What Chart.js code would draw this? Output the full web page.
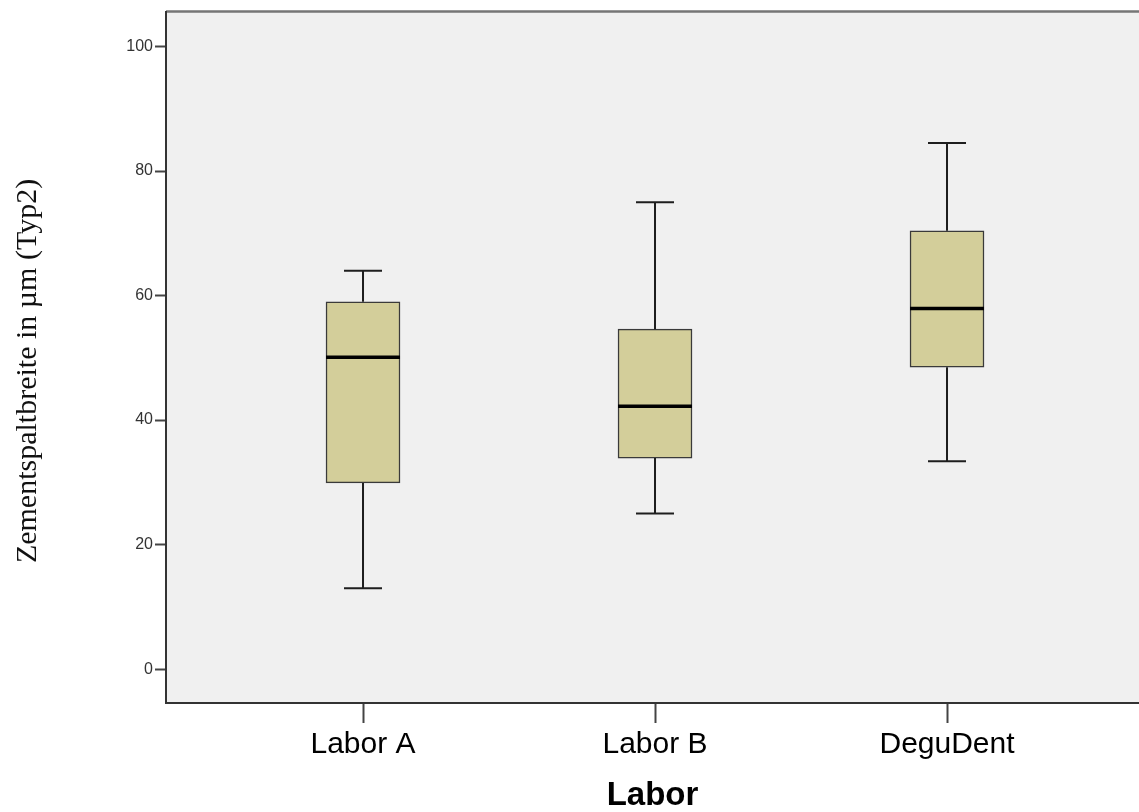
<!DOCTYPE html>
<html>
<head>
<meta charset="utf-8">
<script src="https://cdn.jsdelivr.net/npm/chart.js@4.4.1/dist/chart.umd.min.js"></script>
<style>
  html, body { margin: 0; padding: 0; background: #fff; overflow: hidden; }
</style>
</head>
<body>
<canvas id="my-chart" width="1139" height="812"></canvas>
<script>
// values
const labels = ['Labor A', 'Labor B', 'DeguDent'];
const whiskerLow = [13.0, 25.0, 33.4];
const q1 = [29.9, 33.9, 48.5];
const median = [50.1, 42.2, 57.9];
const q3 = [59.0, 54.6, 70.4];
const whiskerHigh = [64.0, 75.0, 84.5];
const yTicks = [0, 20, 40, 60, 80, 100];

const boxWidth = 74;
const capWidth = 38;

const boxData = labels.map((l, i) => ({ x: i + 1, y: [q1[i], q3[i]] }));

const boxPlugin = {
  id: 'boxplot',
  beforeDraw(chart) {
    const { ctx, chartArea } = chart;
    ctx.save();
    ctx.fillStyle = '#f0f0f0';
    ctx.fillRect(chartArea.left, chartArea.top, chartArea.right - chartArea.left, chartArea.bottom - chartArea.top);
    ctx.strokeStyle = '#767676';
    ctx.lineWidth = 2.5;
    ctx.beginPath();
    ctx.moveTo(chartArea.left, chartArea.top);
    ctx.lineTo(chartArea.right, chartArea.top);
    ctx.stroke();
    ctx.restore();
  },
  afterDatasetsDraw(chart) {
    const { ctx } = chart;
    const xs = chart.scales.x, ys = chart.scales.y;
    ctx.save();
    labels.forEach((l, i) => {
      const cx = xs.getPixelForValue(i + 1);
      // whiskers + caps
      ctx.strokeStyle = '#1e1e1e';
      ctx.lineWidth = 2;
      ctx.beginPath();
      ctx.moveTo(cx, ys.getPixelForValue(q3[i]));
      ctx.lineTo(cx, ys.getPixelForValue(whiskerHigh[i]));
      ctx.moveTo(cx, ys.getPixelForValue(q1[i]));
      ctx.lineTo(cx, ys.getPixelForValue(whiskerLow[i]));
      ctx.moveTo(cx - capWidth / 2, ys.getPixelForValue(whiskerHigh[i]));
      ctx.lineTo(cx + capWidth / 2, ys.getPixelForValue(whiskerHigh[i]));
      ctx.moveTo(cx - capWidth / 2, ys.getPixelForValue(whiskerLow[i]));
      ctx.lineTo(cx + capWidth / 2, ys.getPixelForValue(whiskerLow[i]));
      ctx.stroke();
      // median
      ctx.strokeStyle = '#000';
      ctx.lineWidth = 3.5;
      ctx.beginPath();
      ctx.moveTo(cx - boxWidth / 2, ys.getPixelForValue(median[i]));
      ctx.lineTo(cx + boxWidth / 2, ys.getPixelForValue(median[i]));
      ctx.stroke();
    });
    ctx.restore();
  },
  afterDraw(chart) {
    const { ctx } = chart;
    ctx.save();
    ctx.translate(28, 371);
    ctx.rotate(-Math.PI / 2);
    ctx.fillStyle = '#111';
    ctx.font = '30px "Liberation Serif", serif';
    ctx.textAlign = 'center';
    ctx.textBaseline = 'middle';
    ctx.fillText('Zementspaltbreite in µm (Typ2)', 0, 0);
    ctx.restore();
  }
};

const ctx = document.getElementById('my-chart').getContext('2d');
const chart = new Chart(ctx, {
  type: 'bar',
  data: {
    datasets: [
      {
        data: boxData,
        backgroundColor: '#d3ce9a',
        borderColor: '#3a3a3a',
        borderWidth: 1.5,
        borderSkipped: false,
        barThickness: boxWidth,
        grouped: false
      }
    ]
  },
  options: {
    responsive: false,
    animation: false,
    layout: { padding: { top: 9, right: 0, left: 0, bottom: 0 } },
    plugins: { legend: { display: false }, tooltip: { enabled: false } },
    scales: {
      x: {
        type: 'linear',
        offset: false,
        min: 0.3253,
        max: 3.6575,
        afterBuildTicks: (scale) => { scale.ticks = labels.map((l, i) => ({ value: i + 1 })); },
        afterFit: (scale) => { scale.height = 109; },
        grid: { offset: false, drawOnChartArea: false, drawTicks: true, tickLength: 20, tickWidth: 2, color: '#444' },
        border: { display: true, color: '#333', width: 2 },
        ticks: {
          padding: 4,
          color: '#000',
          font: { family: '"Liberation Sans", Arial, sans-serif', size: 30 },
          callback: (v) => labels[v - 1] || ''
        },
        title: {
          display: true,
          text: 'Labor',
          color: '#000',
          padding: 0,
          font: { family: '"Liberation Sans", Arial, sans-serif', size: 33, weight: 'bold', lineHeight: 1.0 }
        }
      },
      y: {
        min: -5.44,
        max: 105.6,
        afterBuildTicks: (scale) => { scale.ticks = yTicks.map(v => ({ value: v })); },
        afterFit: (scale) => { scale.width = 166; },
        grid: { drawOnChartArea: false, drawTicks: true, tickLength: 11, tickWidth: 2, color: '#444' },
        border: { display: true, color: '#333', width: 2 },
        ticks: {
          padding: 2,
          color: '#333',
          font: { family: '"Liberation Sans", Arial, sans-serif', size: 16 }
        }
      }
    }
  },
  plugins: [boxPlugin]
});
</script>
</body>
</html>
